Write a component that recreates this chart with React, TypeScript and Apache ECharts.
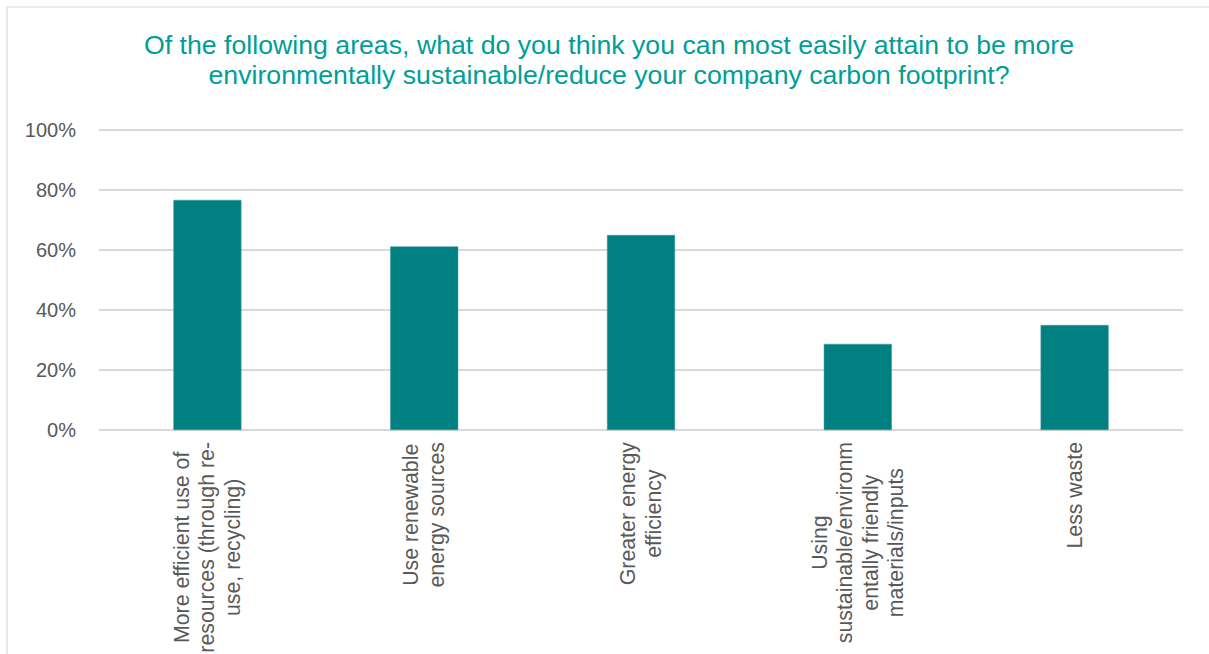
import React, { useEffect, useRef } from "react";
import * as echarts from "echarts";

const titleLines = [
  "Of the following areas, what do you think you can most easily attain to be more",
  "environmentally sustainable/reduce your company carbon footprint?",
];
const categories = [
  "More efficient use of\nresources (through re-\nuse, recycling)",
  "Use renewable\nenergy sources",
  "Greater energy\nefficiency",
  "Using\nsustainable/environm\nentally friendly\nmaterials/inputs",
  "Less waste",
];
const values = [76.7, 61.2, 65.0, 28.7, 35.0];
const yMin = 0;
const yMax = 100;
const yInterval = 20;

const FONT = '"Liberation Sans", Arial, sans-serif';
const X_FONT_SIZE = 21.3;
const X_LINE_HEIGHT = 25.5;

function measure(text: string, size: number) {
  const c = document.createElement("canvas").getContext("2d")!;
  c.font = `${size}px ${FONT}`;
  return Math.max(...text.split("\n").map((l) => c.measureText(l).width));
}

export default function App() {
  const ref = useRef<HTMLDivElement>(null);
  useEffect(() => {
    if (!ref.current) return;
    const chart = echarts.init(ref.current, undefined, { renderer: "svg" });
    chart.setOption({
      animation: false,
      backgroundColor: "#ffffff",
      grid: { left: 99, right: 26, top: 130, bottom: 224, containLabel: false },
      xAxis: {
        type: "category",
        data: categories,
        axisLine: { show: false },
        axisTick: { show: false },
        axisLabel: { show: false },
      },
      yAxis: {
        type: "value",
        min: yMin,
        max: yMax,
        interval: yInterval,
        axisLine: { show: false },
        axisTick: { show: false },
        axisLabel: {
          formatter: "{value}%",
          color: "#595959",
          fontSize: 20,
          fontFamily: FONT,
          margin: 23,
        },
        splitLine: { lineStyle: { color: "#d9d9d9", width: 2 } },
      },
      series: [
        {
          type: "bar",
          data: values,
          barWidth: 68,
          itemStyle: { color: "#008080", borderColor: "#3a9a9a", borderWidth: 0.5 },
        },
      ],
    });

    const axisY = chart.convertToPixel({ yAxisIndex: 0 }, 0) as number;
    const labelEls = categories.map((cat, i) => {
      const cx = chart.convertToPixel({ xAxisIndex: 0 }, i) as number;
      const w = measure(cat, X_FONT_SIZE);
      return {
        type: "text",
        x: cx,
        y: axisY + 12 + w / 2,
        rotation: Math.PI / 2,
        style: {
          text: cat,
          fill: "#595959",
          font: `${X_FONT_SIZE}px ${FONT}`,
          lineHeight: X_LINE_HEIGHT,
          align: "center",
          verticalAlign: "middle",
        },
      };
    });

    chart.setOption({
      graphic: [
        {
          type: "rect",
          shape: { x: 7, y: 7, width: 1260, height: 700 },
          style: { fill: "none", stroke: "#d9d9d9", lineWidth: 1.2 },
          silent: true,
        },
        {
          type: "text",
          x: 609,
          y: 60,
          style: {
            text: titleLines.join("\n"),
            fill: "#009E96",
            font: `26.7px ${FONT}`,
            lineHeight: 30,
            align: "center",
            verticalAlign: "middle",
          },
        },
        ...labelEls,
      ],
    });

    return () => chart.dispose();
  }, []);
  return (
    <div
      ref={ref}
      style={{ position: "fixed", left: 0, top: 0, width: 1209, height: 654 }}
    />
  );
}
